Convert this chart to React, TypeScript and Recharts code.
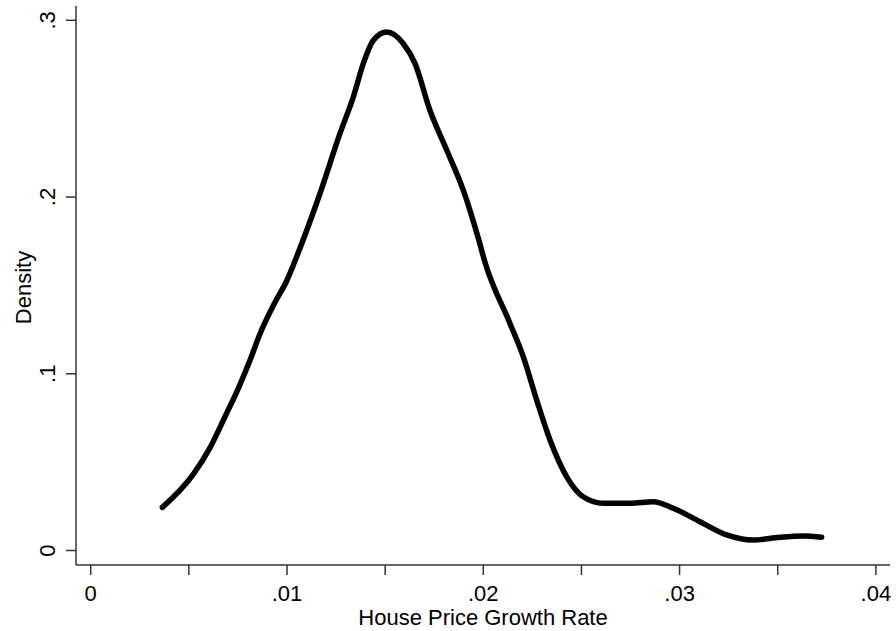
import React from "react";
import {Label, Line, LineChart, XAxis, YAxis} from "recharts";

// kernel density estimate
const growthRate = [
    0.00365, 0.00523, 0.00608, 0.00684, 0.00752, 0.00812, 0.00862, 0.00939, 0.00998, 0.01049,
    0.01168, 0.0127, 0.01338, 0.01389, 0.0144, 0.01508, 0.01592, 0.01652, 0.01728, 0.01814,
    0.01898, 0.01975, 0.02009, 0.02136, 0.02204, 0.02272, 0.0234, 0.02425, 0.02509, 0.02611,
    0.02747, 0.02866, 0.02968, 0.03104, 0.0324, 0.03375, 0.03511, 0.0363, 0.03724,
];
const density = [
    0.0244, 0.0432, 0.0582, 0.0757, 0.0918, 0.1078, 0.1225, 0.1405, 0.1525, 0.1662,
    0.202, 0.236, 0.2567, 0.2756, 0.2887, 0.2934, 0.2869, 0.2756, 0.2491, 0.2265,
    0.2039, 0.1765, 0.1630, 0.1285, 0.1096, 0.0851, 0.0625, 0.0417, 0.0304, 0.0267,
    0.0267, 0.0276, 0.0239, 0.0163, 0.0088, 0.0059, 0.0075, 0.0082, 0.0075,
];

const xTicks = [0, 0.005, 0.01, 0.015, 0.02, 0.025, 0.03, 0.035, 0.04];
const yTicks = [0, 0.1, 0.2, 0.3];

const xDomain = [-0.00075, 0.04072];
const yDomain = [-0.0082, 0.3081];

const FONT = "'Liberation Sans', Arial, Helvetica, sans-serif";
const AXIS = "#333";

const fmt = (v: number, digits: number) => {
    if (v === 0) return "0";
    return v.toFixed(digits).replace(/^0/, "");
};

const formatX = (v: number) => {
    // only every other tick is labelled
    const k = Math.round(v * 1000);
    if (k % 10 !== 0) return "";
    return fmt(v, 2);
};

const YTick = (props: any) => {
    const {x, y, payload} = props;
    return (
        <text x={x} y={y} transform={`rotate(-90, ${x}, ${y})`} textAnchor="middle"
              fontFamily={FONT} fontSize={22} fill="#000">
            {fmt(payload.value, 1)}
        </text>
    );
};

const YTitle = (props: any) => {
    const {viewBox} = props;
    const x = viewBox.x + 31;
    const y = viewBox.y + viewBox.height / 2 + 2;
    return (
        <text x={x} y={y} transform={`rotate(-90, ${x}, ${y})`} textAnchor="middle"
              fontFamily={FONT} fontSize={22} fill="#000">
            Density
        </text>
    );
};

export default function App() {
    const data = growthRate.map((g, i) => ({g, d: density[i]}));

    return (
        <div style={{position: "absolute", left: 0, top: 0, background: "#fff"}}>
            <LineChart width={896} height={631} data={data}
                       margin={{top: 6, right: 6, bottom: 0, left: 0}}>
                <XAxis dataKey="g" type="number" domain={xDomain} ticks={xTicks} allowDataOverflow
                       tickFormatter={formatX} tickSize={10} tickMargin={10} height={66}
                       interval={0}
                       axisLine={{stroke: AXIS, strokeWidth: 1.5}} tickLine={{stroke: AXIS, strokeWidth: 1.5}}
                       tick={{fill: "#000", fontSize: 22, fontFamily: FONT}}>
                    <Label value="House Price Growth Rate" position="insideBottom" offset={6}
                           fill="#000" fontSize={22} fontFamily={FONT}/>
                </XAxis>
                <XAxis xAxisId="top" orientation="top" type="number" domain={xDomain} height={0}
                       tick={false} tickLine={false} axisLine={{stroke: AXIS, strokeWidth: 1.5}}/>
                <YAxis dataKey="d" type="number" domain={yDomain} ticks={yTicks} allowDataOverflow
                       width={76} tickSize={10} tickMargin={11} interval={0}
                       axisLine={{stroke: AXIS, strokeWidth: 1.5}} tickLine={{stroke: AXIS, strokeWidth: 1.5}}
                       tick={<YTick/>}>
                    <Label content={<YTitle/>}/>
                </YAxis>
                <YAxis yAxisId="right" orientation="right" type="number" domain={yDomain} width={0}
                       tick={false} tickLine={false} axisLine={{stroke: AXIS, strokeWidth: 1.5}}/>
                <Line dataKey="d" type="monotone" stroke="#000" strokeWidth={5.5} dot={false}
                      strokeLinecap="round" strokeLinejoin="round" isAnimationActive={false}/>
            </LineChart>
        </div>
    );
}
